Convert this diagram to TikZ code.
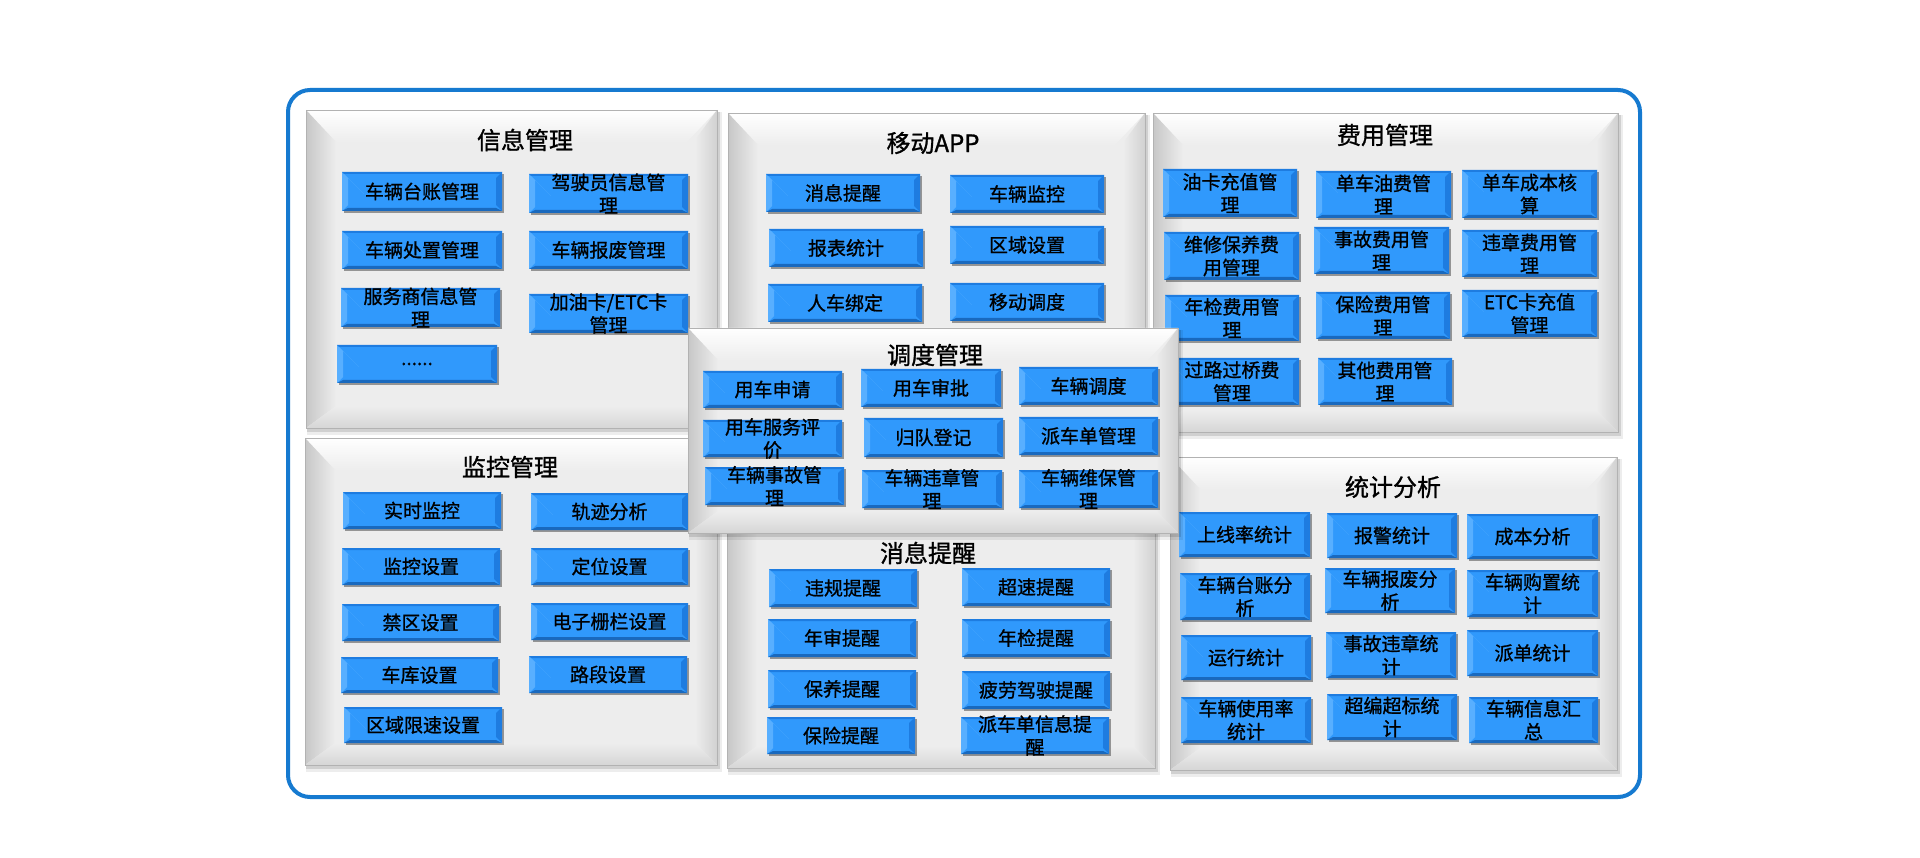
\documentclass[tikz,border=0pt]{standalone}
\usepackage{fontspec}
\newfontfamily\cjk[FakeBold=1.0]{Noto Sans CJK SC}
\newfontfamily\cjkt[FakeBold=1.1]{Noto Sans CJK SC}
\usetikzlibrary{shadows,calc}
\definecolor{frameblue}{RGB}{22,122,208}
\definecolor{btnblue}{RGB}{48,153,252}
\definecolor{btnlight}{RGB}{88,175,255}
\definecolor{btndark}{RGB}{30,124,224}
\definecolor{panelgray}{RGB}{237,237,237}
\tikzset{
  btn/.style={rectangle, fill=btnblue, inner sep=0pt,
    drop shadow={shadow xshift=1.5pt, shadow yshift=-2pt, opacity=0.55, fill=black!70},
    path picture={
      \coordinate (NW) at (path picture bounding box.north west);
      \coordinate (NE) at (path picture bounding box.north east);
      \coordinate (SW) at (path picture bounding box.south west);
      \coordinate (SE) at (path picture bounding box.south east);
      \fill[btnlight] (NW) -- ($(NW)+(22pt,-22pt)$) -- ($(NW)+(6pt,-6pt)$) -- ($(SW)+(6pt,6pt)$) -- (SW) -- cycle;
      \fill[btndark] (NE) -- (SE) -- ($(SE)+(-6pt,6pt)$) -- ($(NE)+(-6pt,-6pt)$) -- cycle;
      \fill[btndark!85!black] (SW) -- (SE) -- ($(SE)+(-6pt,3pt)$) -- ($(SW)+(6pt,3pt)$) -- cycle;
      \fill[btndark] (NW) -- (NE) -- ($(NE)+(-2pt,-2pt)$) -- ($(NW)+(2pt,-2pt)$) -- cycle;
    }},
  btntxt/.style={inner sep=0pt, align=center, text=black, font=\cjk\fontsize{19}{23}\selectfont},
  ttl/.style={inner sep=0pt, text=black, font=\cjkt\fontsize{24}{28}\selectfont}
}
\newcommand\btn[6]{%
  \node[btn, minimum width={#4-#2}, minimum height={#5-#3}] (#1) at ({(#2+#4)/2},{(#3+#5)/2}) {};
  \node[btntxt] (#1-t) at (#1) {#6};}
\newcommand\panel[4]{%
  \fill[black,opacity=.07] (#1+1,#2+2) rectangle (#3+5,#4+7);
  \fill[black,opacity=.12] (#1+1,#2+2) rectangle (#3+3,#4+4);
  \fill[panelgray] (#1,#2) rectangle (#3,#4);
  \shade[top color=white, bottom color=panelgray] (#1,#2) -- (#3,#2) -- (#3-30,#2+32) -- (#1+30,#2+32) -- cycle;
  \shade[left color=black!22, right color=panelgray] (#1,#2) -- (#1+30,#2+32) -- (#1+30,#4-22) -- (#1,#4) -- cycle;
  \shade[left color=panelgray, right color=black!18] (#3,#2) -- (#3,#4) -- (#3-22,#4-22) -- (#3-22,#2+30) -- cycle;
  \shade[top color=panelgray, bottom color=black!16] (#1,#4) -- (#3,#4) -- (#3-22,#4-22) -- (#1+30,#4-22) -- cycle;
  \draw[black!30, line width=0.8pt] (#1,#2) rectangle (#3,#4);}
\begin{document}
\begin{tikzpicture}[x=1pt,y=-1pt]
\useasboundingbox (0,0) rectangle (1920,858);
\fill[white] (0,0) rectangle (1920,858);
\draw[frameblue, line width=4pt, rounded corners=22pt, fill=white] (288,90) rectangle (1640,797);

% ---------- 信息管理
\panel{306}{110}{717}{428}
\node[ttl] (t-info) at (525,140) {信息管理};
\btn{i1}{342}{172}{502}{211}{车辆台账管理}
\btn{i2}{529}{174}{688}{213}{驾驶员信息管\\理}
\btn{i3}{342}{231}{502}{269}{车辆处置管理}
\btn{i4}{529}{231}{688}{269}{车辆报废管理}
\btn{i5}{341}{288}{500}{327}{服务商信息管\\理}
\btn{i6}{529}{294}{688}{333}{加油卡/ETC卡\\管理}
\btn{i7}{337}{345}{497}{383}{......}

% ---------- 移动APP
\panel{728}{113}{1145}{432}
\node[ttl] (t-app) at (933,143) {移动APP};
\btn{a1}{766}{174}{920}{212}{消息提醒}
\btn{a2}{950}{175}{1104}{213}{车辆监控}
\btn{a3}{769}{229}{923}{267}{报表统计}
\btn{a4}{950}{226}{1104}{264}{区域设置}
\btn{a5}{768}{284}{922}{322}{人车绑定}
\btn{a6}{950}{283}{1104}{321}{移动调度}

% ---------- 费用管理
\panel{1153}{113}{1618}{432}
\node[ttl] (t-fee) at (1385,135) {费用管理};
\btn{f1}{1163}{169}{1297}{217}{油卡充值管\\理}
\btn{f2}{1316}{171}{1451}{218}{单车油费管\\理}
\btn{f3}{1462}{170}{1597}{218}{单车成本核\\算}
\btn{f4}{1164}{232}{1299}{280}{维修保养费\\用管理}
\btn{f5}{1314}{227}{1449}{274}{事故费用管\\理}
\btn{f6}{1462}{230}{1597}{277}{违章费用管\\理}
\btn{f7}{1165}{295}{1299}{341}{年检费用管\\理}
\btn{f8}{1316}{292}{1450}{339}{保险费用管\\理}
\btn{f9}{1462}{290}{1597}{337}{ETC卡充值\\管理}
\btn{f10}{1165}{358}{1299}{405}{过路过桥费\\管理}
\btn{f11}{1318}{358}{1452}{405}{其他费用管\\理}

% ---------- 监控管理
\panel{305}{438}{717}{765}
\node[ttl] (t-mon) at (510,467) {监控管理};
\btn{m1}{343}{492}{501}{529}{实时监控}
\btn{m2}{531}{493}{688}{530}{轨迹分析}
\btn{m3}{342}{548}{500}{585}{监控设置}
\btn{m4}{531}{548}{688}{585}{定位设置}
\btn{m5}{342}{604}{499}{641}{禁区设置}
\btn{m6}{531}{603}{688}{640}{电子栅栏设置}
\btn{m7}{341}{657}{498}{693}{车库设置}
\btn{m8}{529}{656}{687}{693}{路段设置}
\btn{m9}{344}{707}{502}{743}{区域限速设置}

% ---------- 消息提醒
\panel{727}{440}{1155}{768}
\node[ttl] (t-msg) at (928,553) {消息提醒};
\btn{n1}{769}{569}{917}{607}{违规提醒}
\btn{n2}{962}{568}{1110}{606}{超速提醒}
\btn{n3}{768}{619}{916}{657}{年审提醒}
\btn{n4}{962}{619}{1110}{657}{年检提醒}
\btn{n5}{768}{670}{916}{708}{保养提醒}
\btn{n6}{962}{671}{1110}{709}{疲劳驾驶提醒}
\btn{n7}{767}{717}{915}{754}{保险提醒}
\btn{n8}{961}{717}{1109}{754}{派车单信息提\\醒}

% ---------- 统计分析
\panel{1170}{457}{1617}{770}
\node[ttl] (t-sta) at (1393,487) {统计分析};
\btn{s1}{1179}{512}{1310}{557}{上线率统计}
\btn{s2}{1327}{513}{1457}{558}{报警统计}
\btn{s3}{1467}{514}{1598}{559}{成本分析}
\btn{s4}{1180}{573}{1310}{620}{车辆台账分\\析}
\btn{s5}{1325}{568}{1455}{613}{车辆报废分\\析}
\btn{s6}{1467}{570}{1598}{617}{车辆购置统\\计}
\btn{s7}{1181}{635}{1311}{680}{运行统计}
\btn{s8}{1326}{632}{1456}{678}{事故违章统\\计}
\btn{s9}{1467}{630}{1598}{676}{派单统计}
\btn{s10}{1181}{697}{1311}{743}{车辆使用率\\统计}
\btn{s11}{1327}{694}{1457}{740}{超编超标统\\计}
\btn{s12}{1469}{697}{1598}{743}{车辆信息汇\\总}

% ---------- 调度管理 (on top)
\panel{688}{328}{1178}{533}
\node[ttl] (t-dis) at (935,355) {调度管理};
\btn{d1}{703}{371}{842}{408}{用车申请}
\btn{d2}{861}{369}{1001}{407}{用车审批}
\btn{d3}{1019}{367}{1158}{405}{车辆调度}
\btn{d4}{703}{420}{842}{457}{用车服务评\\价}
\btn{d5}{864}{418}{1003}{457}{归队登记}
\btn{d6}{1019}{417}{1158}{455}{派车单管理}
\btn{d7}{705}{467}{844}{505}{车辆事故管\\理}
\btn{d8}{862}{470}{1002}{508}{车辆违章管\\理}
\btn{d9}{1019}{470}{1158}{508}{车辆维保管\\理}
\end{tikzpicture}
\end{document}
